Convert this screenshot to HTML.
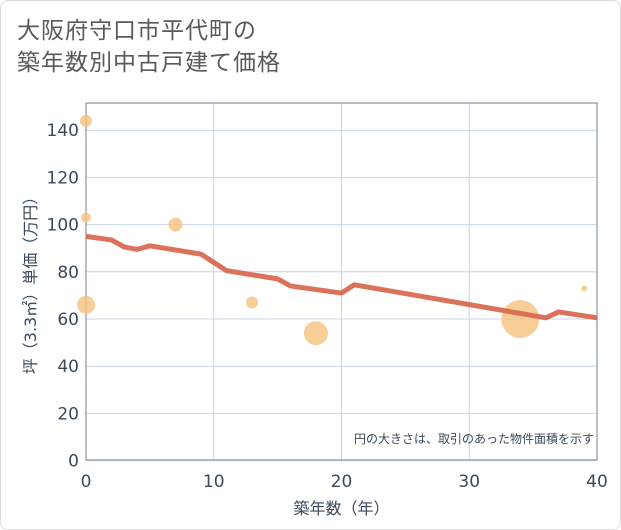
<!DOCTYPE html>
<html><head><meta charset="utf-8"><style>
body{margin:0;background:#fff;}
#card{position:absolute;left:0;top:0;width:619px;height:528px;border:1px solid #ddd;border-radius:8px;background:#fff;}
#title{position:absolute;left:16px;top:14px;font:23px/32px "DejaVu Sans","Noto Sans CJK JP",sans-serif;color:#5a5a5a;letter-spacing:1px;}
text{font-family:"DejaVu Sans","Noto Sans CJK JP",sans-serif;}
</style></head><body>
<div id="card">
<div id="title">大阪府守口市平代町の<br>築年数別中古戸建て価格</div>
</div>
<svg id="chart" width="621" height="530" style="position:absolute;left:0;top:0"></svg>
<script>
const xTicks=[0,10,20,30,40];
const yTicks=[0,20,40,60,80,100,120,140];
const lineYears=[0,2,3,4,5,9,11,15,16,20,21,36,37,40];
const linePrices=[95,93.5,90.5,89.5,91,87.5,80.5,77,74,71,74.5,60.5,63,60.5];
const bubbleYears=[0,0,0,7,13,18,34,39];
const bubblePrices=[144,103,66,100,67,54,60,73];
const bubbleSizes=[6,5,9,7,6,12,19,3];
const L=86,R=597,T=103,B=460;
const X=v=>L+(v-0)/40*(R-L);
const Y=v=>460.6-v*2.36;
const svg=document.getElementById('chart');
const NS='http://www.w3.org/2000/svg';
const TC='#3a4a5c';
function mk(t,a){const e=document.createElementNS(NS,t);for(const k in a)e.setAttribute(k,a[k]);svg.appendChild(e);return e;}
let r=mk('rect',{x:L,y:T,width:R-L,height:B-T,fill:'#fff',stroke:'none'});


xTicks.forEach(v=>{
 let g=mk('line',{x1:X(v),x2:X(v),y1:T,y2:B,stroke:'#c8d6e3','stroke-width':1});
 
 
 let t=mk('text',{x:X(v),y:487,'text-anchor':'middle','font-size':17,fill:TC});t.textContent=v;
 
 
});
yTicks.forEach(v=>{
 let g=mk('line',{x1:L,x2:R,y1:Y(v),y2:Y(v),stroke:'#c8d6e3','stroke-width':1});
 
 
 let t=mk('text',{x:79,y:Y(v)+6,'text-anchor':'end','font-size':17,fill:TC});t.textContent=v;
 
 
});
let fr=mk('path',{d:`M${L},${T}V${B}H${R}V${T}H${L}`,fill:'none',stroke:'#8a96a3','stroke-width':1.2});


bubbleYears.forEach((v,i)=>{
 let c=mk('circle',{cx:X(v),cy:Y(bubblePrices[i]),r:bubbleSizes[i],fill:'#f5c27e','fill-opacity':0.8});
 
 
});
let p=mk('polyline',{points:lineYears.map((v,i)=>X(v)+','+Y(linePrices[i])).join(' '),fill:'none',stroke:'#d96a53','stroke-width':5,'stroke-linejoin':'round','stroke-opacity':0.95});


let n=mk('text',{x:594,y:443,'text-anchor':'end','font-size':12,fill:TC});n.textContent='円の大きさは、取引のあった物件面積を示す';


let xt=mk('text',{x:(L+R)/2,y:514,'text-anchor':'middle','font-size':16,fill:TC});xt.textContent='築年数（年）';


let yt=mk('text',{x:0,y:0,'text-anchor':'middle','font-size':16,fill:TC,transform:`translate(36,${(T+B)/2}) rotate(-90)`});yt.textContent='坪（3.3㎡）単価（万円）';


</script>
</body></html>
